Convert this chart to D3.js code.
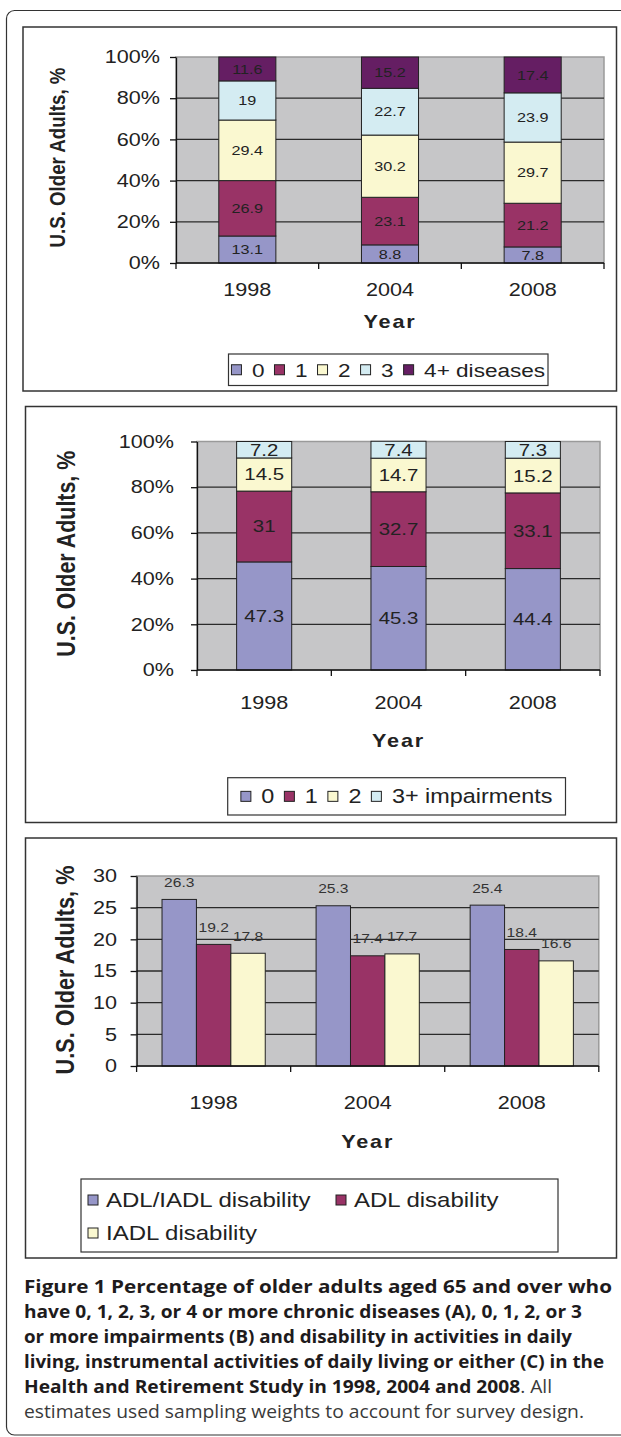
<!DOCTYPE html>
<html><head><meta charset="utf-8">
<script src="https://cdn.jsdelivr.net/npm/d3@7"></script>
<style>body{margin:0;background:#fff}svg{display:block}</style>
</head><body><svg id="c" width="621" height="1437"></svg>
<script>
// ---------- DATA ----------
const years = ["1998", "2004", "2008"];
// Panel A: chronic diseases
const diseaseKeys = ["0", "1", "2", "3", "4+ diseases"];
const disease0 = [13.1, 8.8, 7.8];
const disease1 = [26.9, 23.1, 21.2];
const disease2 = [29.4, 30.2, 29.7];
const disease3 = [19, 22.7, 23.9];
const disease4 = [11.6, 15.2, 17.4];
// Panel B: impairments
const impairKeys = ["0", "1", "2", "3+ impairments"];
const impair0 = [47.3, 45.3, 44.4];
const impair1 = [31, 32.7, 33.1];
const impair2 = [14.5, 14.7, 15.2];
const impair3 = [7.2, 7.4, 7.3];
// Panel C: disability
const disabKeys = ["ADL/IADL disability", "ADL disability", "IADL disability"];
const adlIadl = [26.3, 25.3, 25.4];
const adl = [19.2, 17.4, 18.4];
const iadl = [17.8, 17.7, 16.6];
// ticks
const pctTicks = [0, 20, 40, 60, 80, 100];
const numTicks = [0, 5, 10, 15, 20, 25, 30];
const yTitle = "U.S. Older Adults, %";
const xTitle = "Year";
const captionLines = [
  [["Figure 1 Percentage of older adults aged 65 and over who", 1]],
  [["have 0, 1, 2, 3, or 4 or more chronic diseases (A), 0, 1, 2, or 3", 1]],
  [["or more impairments (B) and disability in activities in daily", 1]],
  [["living, instrumental activities of daily living or either (C) in the", 1]],
  [["Health and Retirement Study in 1998, 2004 and 2008", 1], [". All", 0]],
  [["estimates used sampling weights to account for survey design.", 0]]
];

// ---------- STYLE ----------
const SX = 1.2;
const FONT = '"Liberation Sans", Arial, Helvetica, sans-serif';
const colA = ["#9696c8", "#993366", "#faf8d0", "#d4ecf2", "#651e63"];
const colB = colA.slice(0, 4);
const colC = colA.slice(0, 3);
const PLOT_BG = "#c6c6c8";
const INK = "#222";

const svg = d3.select("#c");
svg.append("rect").attr("x", 6.5).attr("y", 10.5).attr("width", 700).attr("height", 1424.5)
  .attr("rx", 8).attr("fill", "none").attr("stroke", "#333").attr("stroke-width", 1.2);

function stxt(g, x, y, s, fs, o = {}) {
  const t = g.append("text")
    .attr("transform", `translate(${x},${y}) scale(${SX},1)`)
    .attr("font-family", FONT).attr("font-size", fs)
    .attr("text-anchor", o.anchor || "middle").attr("fill", o.fill || INK).text(s);
  if (o.bold) t.attr("font-weight", "bold");
  if (o.dy) t.attr("dy", o.dy);
  if (o.ls) t.attr("letter-spacing", o.ls);
  return t;
}

function frame(b) {
  svg.append("rect").attr("x", b.x).attr("y", b.y).attr("width", b.w).attr("height", b.h)
    .attr("fill", "#fff").attr("stroke", "#333").attr("stroke-width", 1.5);
}

function base(c) {
  const g = svg.append("g");
  const y = d3.scaleLinear().domain(c.domain).range([c.y1, c.y0]);
  const xCat = d3.scaleBand().domain(years).range([c.x0, c.x1]);
  g.append("rect").attr("x", c.x0).attr("y", c.y0).attr("width", c.x1 - c.x0).attr("height", c.y1 - c.y0)
    .attr("fill", PLOT_BG).attr("stroke", "#9a9a9a").attr("stroke-width", 1.5);
  g.selectAll("line.grid").data(c.ticks.slice(1, -1)).join("line").attr("class", "grid")
    .attr("x1", c.x0).attr("x2", c.x1).attr("y1", d => y(d)).attr("y2", d => y(d))
    .attr("stroke", "#2a2a2a").attr("stroke-width", 1.3);
  const marks = g.append("g");
  // y axis
  const ya = g.append("g").attr("transform", `translate(${c.x0},0)`)
    .call(d3.axisLeft(y).tickValues(c.ticks).tickFormat(c.fmt).tickSize(6).tickSizeOuter(0).tickPadding(c.tickPad));
  ya.select(".domain").attr("stroke", "#111").attr("stroke-width", 1.3);
  ya.selectAll(".tick line").attr("stroke", "#111").attr("stroke-width", 1.3);
  ya.selectAll(".tick text").attr("font-family", FONT).attr("font-size", c.fsTick).attr("fill", INK)
    .attr("transform", `scale(${SX},1)`);
  // x axis
  const xa = g.append("g").attr("transform", `translate(0,${c.y1})`)
    .call(d3.axisBottom(xCat).tickSize(0).tickPadding(c.xPad));
  xa.select(".domain").remove();
  xa.selectAll(".tick text").attr("font-family", FONT).attr("font-size", c.fsTick).attr("fill", INK)
    .attr("transform", `scale(${SX},1)`);
  g.append("line").attr("x1", c.x0).attr("x2", c.x1).attr("y1", c.y1).attr("y2", c.y1)
    .attr("stroke", "#111").attr("stroke-width", 1.3);
  const bounds = years.map(d => xCat(d)).concat([xCat.range()[1]]);
  g.selectAll("line.xt").data(bounds).join("line").attr("class", "xt")
    .attr("x1", d => d).attr("x2", d => d).attr("y1", c.y1).attr("y2", c.y1 + 6)
    .attr("stroke", "#111").attr("stroke-width", 1.3);
  // titles
  g.append("text")
    .attr("transform", `translate(${c.titleX},${(c.y0 + c.y1) / 2 + c.titleShift}) scale(${SX},1) rotate(-90)`)
    .attr("text-anchor", "middle").attr("dy", "0.35em").attr("font-family", FONT)
    .attr("font-weight", "bold").attr("font-size", c.titleFs).attr("fill", INK).text(yTitle);
  stxt(g, (c.x0 + c.x1) / 2, c.yearY, xTitle, 18, { bold: true, ls: 1.5 });
  return { g: marks, y, xCat };
}

function stackedPanel(c, keys, series, cols, fsLab, barPad) {
  const { g, y } = base(c);
  const rows = years.map((yr, i) => {
    const r = { year: yr };
    keys.forEach((k, j) => r[k] = series[j][i]);
    return r;
  });
  const st = d3.stack().keys(keys)(rows);
  const xb = d3.scaleBand().domain(years).range([c.x0, c.x1]).paddingInner(barPad * 2).paddingOuter(barPad);
  st.forEach((layer, j) => {
    const lg = g.append("g");
    lg.selectAll("rect").data(layer).join("rect")
      .attr("x", d => xb(d.data.year)).attr("width", xb.bandwidth())
      .attr("y", d => y(d[1])).attr("height", d => y(d[0]) - y(d[1]))
      .attr("fill", cols[j]).attr("stroke", "#222").attr("stroke-width", 1);
  });
  st.forEach((layer, j) => {
    layer.forEach(d => {
      stxt(g, xb(d.data.year) + xb.bandwidth() / 2, (y(d[0]) + y(d[1])) / 2, String(d.data[keys[j]]), fsLab, { dy: "0.35em" });
    });
  });
}

function legendRow(lb, keys, cols, fs) {
  const g = svg.append("g");
  g.append("rect").attr("x", lb.x).attr("y", lb.y).attr("width", lb.w).attr("height", lb.h)
    .attr("fill", "#fff").attr("stroke", "#333").attr("stroke-width", 1.2);
  const cy = lb.y + lb.h / 2;
  const items = keys.map((k, i) => {
    const t = stxt(g, 0, 0, k, fs, { anchor: "start" });
    return { t, w: t.node().getComputedTextLength() * SX, col: cols[i] };
  });
  const sq = 10, g1 = 10.5, g2 = 10;
  const total = d3.sum(items, d => d.w) + items.length * (sq + g1) + (items.length - 1) * g2;
  let x = lb.x + (lb.w - total) / 2;
  items.forEach(it => {
    g.append("rect").attr("x", x).attr("y", cy - sq / 2).attr("width", sq).attr("height", sq)
      .attr("fill", it.col).attr("stroke", "#222").attr("stroke-width", 1);
    it.t.attr("transform", `translate(${x + sq + g1},${cy}) scale(${SX},1)`).attr("dy", "0.36em");
    x += sq + g1 + it.w + g2;
  });
}

// ---------- PANEL A ----------
frame({ x: 23, y: 27, w: 593.5, h: 364 });
stackedPanel({ x0: 176, x1: 604, y0: 57, y1: 263, domain: [0, 100], ticks: pctTicks, fmt: d => d + "%",
  tickPad: 7.3, xPad: 20.7, fsTick: 18, titleX: 57, titleShift: -2.5, titleFs: 18.7, yearY: 328 },
  diseaseKeys, [disease0, disease1, disease2, disease3, disease4], colA, 13.5, 0.3);
legendRow({ x: 228.5, y: 354, w: 319.5, h: 31.5 }, diseaseKeys, colA, 18.8);

// ---------- PANEL B ----------
frame({ x: 25.5, y: 406.5, w: 591, h: 416 });
stackedPanel({ x0: 197, x1: 600, y0: 441.5, y1: 670, domain: [0, 100], ticks: pctTicks, fmt: d => d + "%",
  tickPad: 13.2, xPad: 26.2, fsTick: 18, titleX: 66, titleShift: -2, titleFs: 21.4, yearY: 746.5 },
  impairKeys, [impair0, impair1, impair2, impair3], colB, 17, 0.295);
legendRow({ x: 227.7, y: 777.7, w: 337.8, h: 37.3 }, impairKeys, colB, 19.5);

// ---------- PANEL C ----------
frame({ x: 25.5, y: 838, w: 591, h: 420 });
(function () {
  const c = { x0: 136.6, x1: 598.8, y0: 876, y1: 1066, domain: [0, 30], ticks: numTicks, fmt: d => d,
    tickPad: 10.3, xPad: 30.7, fsTick: 18, titleX: 65, titleShift: -1, titleFs: 21.7, yearY: 1147.5 };
  const { g, y } = base(c);
  const xg = d3.scaleBand().domain(years).range([c.x0, c.x1]).paddingInner(0.33).paddingOuter(0.165);
  const xs = d3.scaleBand().domain(disabKeys).range([0, xg.bandwidth()]);
  const series = [adlIadl, adl, iadl];
  disabKeys.forEach((k, j) => {
    const bg = g.append("g");
    bg.selectAll("rect").data(years).join("rect")
      .attr("x", d => xg(d) + xs(k)).attr("width", xs.bandwidth())
      .attr("y", (d, i) => y(series[j][i])).attr("height", (d, i) => y(0) - y(series[j][i]))
      .attr("fill", colC[j]).attr("stroke", "#222").attr("stroke-width", 1);
    years.forEach((yr, i) => {
      stxt(g, xg(yr) + xs(k) + xs.bandwidth() / 2, y(series[j][i]) - 17, String(series[j][i]), 13, { dy: "0.35em", fill: "#333" });
    });
  });
  // legend (two rows)
  const lg = svg.append("g");
  lg.append("rect").attr("x", 81).attr("y", 1179).attr("width", 477).attr("height", 73)
    .attr("fill", "#fff").attr("stroke", "#333").attr("stroke-width", 1.2);
  const pos = [[88, 1200], [336, 1200], [88, 1233]];
  disabKeys.forEach((k, i) => {
    const [px, py] = pos[i];
    lg.append("rect").attr("x", px).attr("y", py - 5).attr("width", 10).attr("height", 10)
      .attr("fill", colC[i]).attr("stroke", "#222").attr("stroke-width", 1);
    stxt(lg, px + 18, py, k, 20, { anchor: "start", dy: "0.36em" });
  });
})();

// ---------- CAPTION ----------
const capEnds = [612, 582, 572, 604, 552, 584];
const cap = svg.append("g");
captionLines.forEach((parts, i) => {
  const t = cap.append("text").attr("x", 24).attr("y", 1293 + i * 25)
    .attr("font-family", '"Open Sans", "Noto Sans", sans-serif').attr("font-size", 17.5);
  parts.forEach(([s, b]) => {
    t.append("tspan").attr("font-weight", b ? 700 : 400).attr("fill", b ? "#1e1b1c" : "#3a3a3a").text(s);
  });
  t.attr("textLength", capEnds[i] - 24).attr("lengthAdjust", "spacingAndGlyphs");
});
</script>
</body></html>
